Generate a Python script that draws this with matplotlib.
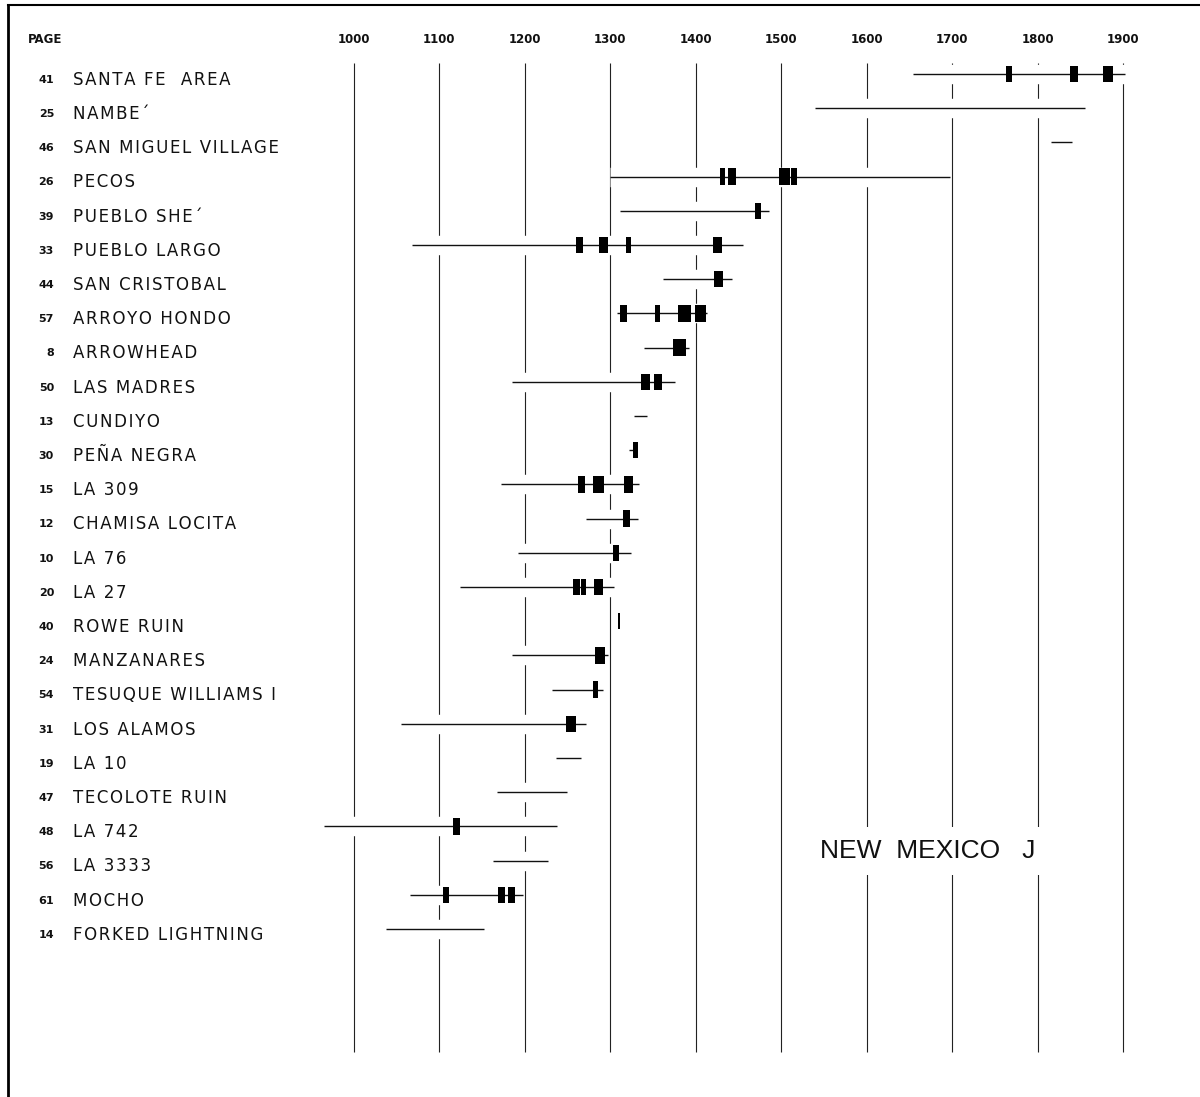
import matplotlib
matplotlib.use("Agg")
import matplotlib.pyplot as plt
import matplotlib.patheffects as pe
import matplotlib.transforms as mtransforms
from matplotlib.patches import Rectangle

# page numbers and site names, top to bottom
pages = [41, 25, 46, 26, 39, 33, 44, 57, 8, 50, 13, 30, 15, 12, 10, 20, 40,
         24, 54, 31, 19, 47, 48, 56, 61, 14]
sites = ["SANTA FE  AREA", "NAMBE\u00b4", "SAN MIGUEL VILLAGE", "PECOS",
         "PUEBLO SHE\u00b4", "PUEBLO LARGO", "SAN CRISTOBAL", "ARROYO HONDO",
         "ARROWHEAD", "LAS MADRES", "CUNDIYO", "PE\u00d1A NEGRA", "LA 309",
         "CHAMISA LOCITA", "LA 76", "LA 27", "ROWE RUIN", "MANZANARES",
         "TESUQUE WILLIAMS I", "LOS ALAMOS", "LA 10", "TECOLOTE RUIN",
         "LA 742", "LA 3333", "MOCHO", "FORKED LIGHTNING"]

# range of each site (years AD)
starts = [1654, 1540, 1816, 1300, 1312, 1068, 1362, 1308, 1340, 1185, 1328,
          1322, 1173, 1272, 1192, 1125, 1309, 1185, 1232, 1056, 1237, 1168,
          965, 1163, 1066, 1038]
ends = [1902, 1856, 1840, 1698, 1486, 1456, 1443, 1413, 1392, 1376, 1343,
        1332, 1334, 1333, 1325, 1305, 1311, 1298, 1292, 1272, 1266, 1250,
        1238, 1227, 1198, 1153]

# dated blocks on each range and their width (years)
dates = [[1767, 1843, 1882], [], [], [1432, 1443, 1504, 1515], [1473],
         [1264, 1292, 1322, 1426], [1427], [1316, 1355, 1387, 1406], [1381],
         [1341, 1356], [], [1330], [1267, 1287, 1322], [1319], [1307],
         [1261, 1269, 1287], [1310], [1288], [1283], [1254], [], [], [1120],
         [], [1108, 1173, 1185], []]
widths = [[7, 9, 12], [], [], [6, 9, 12, 7], [8],
          [8, 10.5, 6, 10.5], [10.5], [8, 6, 15, 13], [15],
          [10.5, 9], [], [6], [8, 13, 10.5], [8], [7],
          [8, 6, 10.5], [2.5], [12], [6], [12], [], [], [8],
          [], [7, 8, 8], []]

century_years = [1000, 1100, 1200, 1300, 1400, 1500, 1600, 1700, 1800, 1900]


def spaced(s):
    # a little extra tracking, like the hand lettering
    return "\u200a".join(s)


fig = plt.figure(figsize=(12, 10.97), dpi=100)
ax = fig.add_axes([0, 0, 1, 1])
ax.set_xlim(586.5, 1990)
ax.set_ylim(29.91, -2.164)
ax.axis("off")

rows = list(range(len(sites)))

# century lines
ax.vlines(century_years, -0.33, 28.6, color="#222222", lw=0.8, zorder=1)
for yr in century_years:
    ax.text(yr, -1.02, str(yr), ha="center", va="center", fontsize=8.5,
            fontweight="bold", color="#111111")

# ranges, with a white halo so century lines are broken where crossed
for r, s, e in zip(rows, starts, ends):
    ax.plot([s, e], [r, r], color="#111111", lw=1.0, solid_capstyle="butt",
            zorder=2,
            path_effects=[pe.Stroke(linewidth=14, foreground="white"),
                          pe.Normal()])

# dated blocks
h = 0.48
for r, ds, ws in zip(rows, dates, widths):
    for d, w in zip(ds, ws):
        ax.add_patch(Rectangle((d - w / 2, r - h / 2), w, h,
                               facecolor="black", edgecolor="none", zorder=3))

# labels on the left, in figure x / data y
trans = mtransforms.blended_transform_factory(fig.transFigure, ax.transData)
for r, p, name in zip(rows, pages, sites):
    ax.text(54 / 1200, r + 0.17, str(p), transform=trans, ha="right",
            va="center", fontsize=8, fontweight="bold", color="#111111")
    ax.text(73 / 1200, r + 0.17, spaced(name), transform=trans, ha="left",
            va="center", fontsize=12, color="#111111")

ax.text(28 / 1200, -1.02, "PAGE", transform=trans, ha="left", va="center",
        fontsize=8.5, fontweight="bold", color="#111111")

ax.text(1546, 22.72, "NEW  MEXICO   J", ha="left", va="center", fontsize=19,
        family="Liberation Sans", color="#111111", zorder=4,
        bbox=dict(facecolor="white", edgecolor="none", pad=9))

# frame edges (left and top)
fig.add_artist(plt.Line2D([8 / 1200, 8 / 1200], [0, 1 - 5 / 1097],
                          transform=fig.transFigure, color="black", lw=2))
fig.add_artist(plt.Line2D([8 / 1200, 1], [1 - 5 / 1097, 1 - 5 / 1097],
                          transform=fig.transFigure, color="black", lw=1.5))

fig.savefig("out.png", dpi=100, facecolor="white")
